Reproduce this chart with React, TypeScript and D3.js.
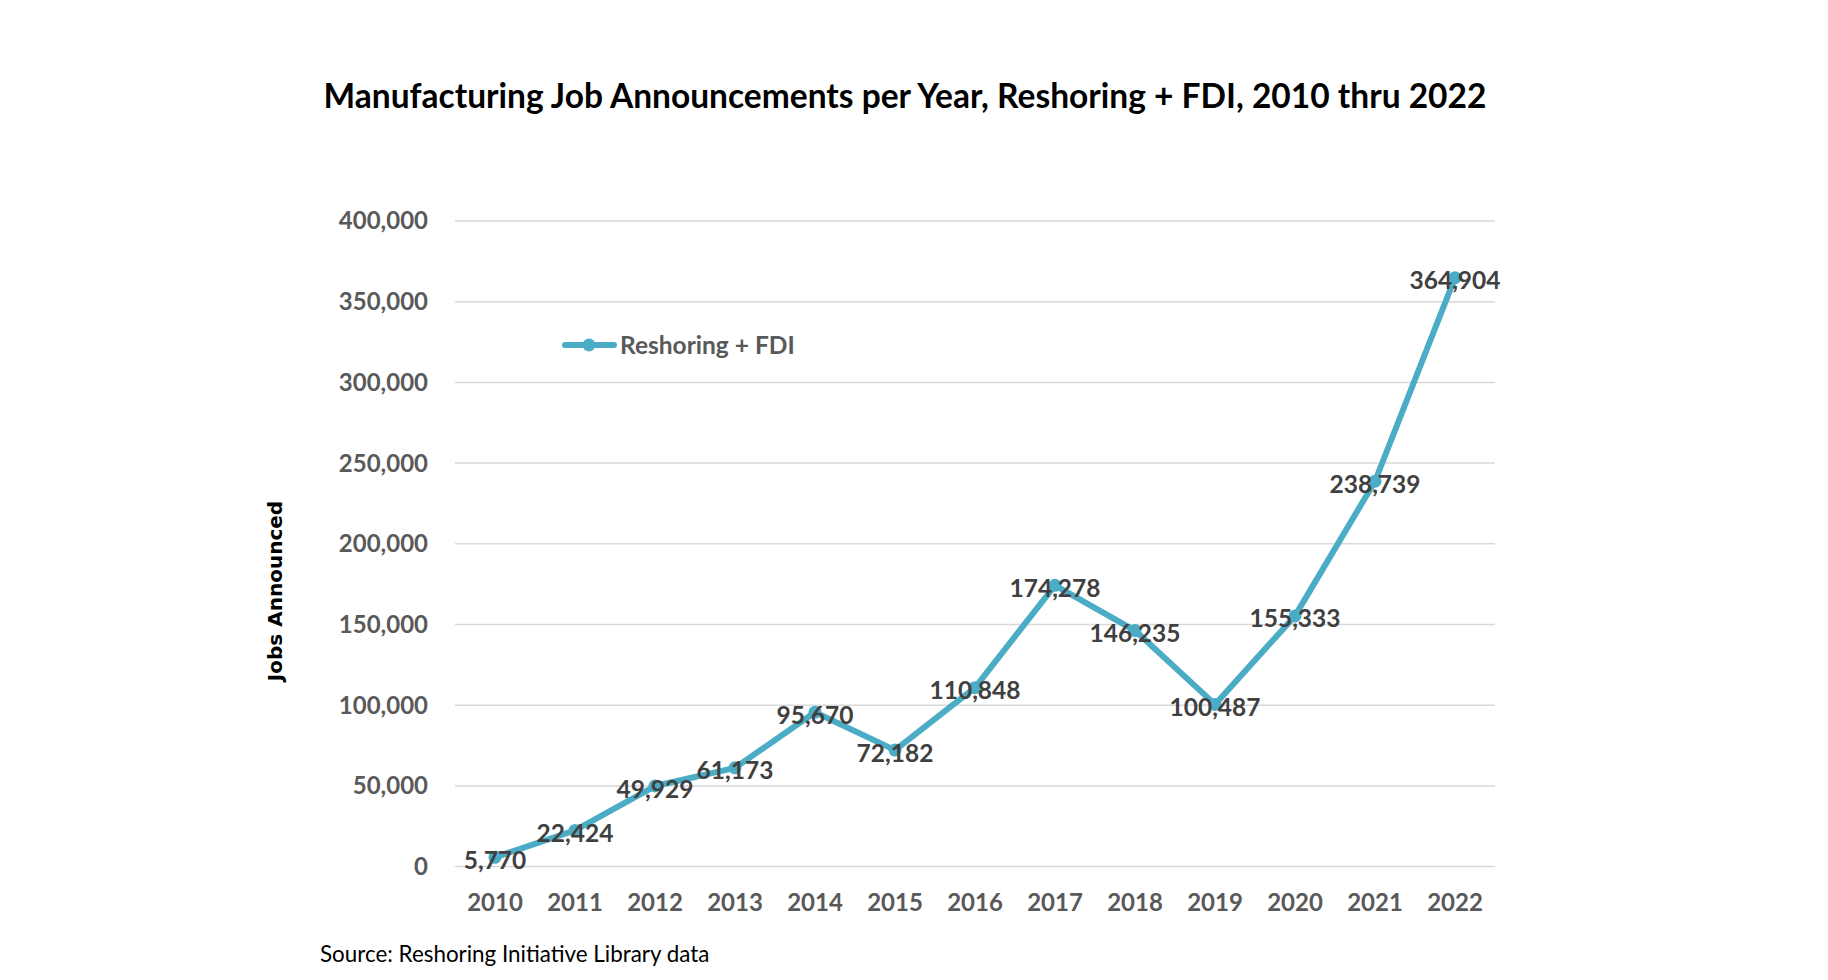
import React from 'react';
import * as d3 from 'd3';

// chart data
const years = ['2010', '2011', '2012', '2013', '2014', '2015', '2016', '2017', '2018', '2019', '2020', '2021', '2022'];
const jobs = [5770, 22424, 49929, 61173, 95670, 72182, 110848, 174278, 146235, 100487, 155333, 238739, 364904];
const yTicks = [0, 50000, 100000, 150000, 200000, 250000, 300000, 350000, 400000];

const seriesName = 'Reshoring + FDI';
const title = 'Manufacturing Job Announcements per Year, Reshoring + FDI, 2010 thru 2022';
const yTitle = 'Jobs Announced';
const source = 'Source: Reshoring Initiative Library data';

const W = 1828;
const H = 980;
const LINE = '#4BACC6';
const FONT = 'Lato, "Open Sans", sans-serif';

export default function App() {
  const x = d3.scaleBand<string>().domain(years).range([455, 1495]);
  const y = d3.scaleLinear().domain([0, 400000]).range([866.6, 221]);
  const fmt = d3.format(',');

  const cx = (i: number) => (x(years[i]) as number) + x.bandwidth() / 2;

  const line = d3.line<number>()
    .x((_, i) => cx(i))
    .y(d => y(d));

  return (
    <div style={{ position: 'absolute', left: 0, top: 0 }}>
      <svg width={W} height={H} viewBox={`0 0 ${W} ${H}`} style={{ display: 'block', background: '#fff' }}>
        {/* title */}
        <text x={905} y={108} textAnchor="middle" fontFamily={FONT} fontWeight={700} fontSize={33.5} fill="#000">
          {title}
        </text>

        {/* gridlines */}
        {yTicks.map(t => (
          <line key={t} x1={455} x2={1495} y1={y(t)} y2={y(t)} stroke="#d9d9d9" strokeWidth={1.5} />
        ))}

        {/* y tick labels */}
        {yTicks.map(t => (
          <text key={'l' + t} x={428} y={y(t)} dy="0.35em" textAnchor="end" fontFamily={FONT} fontWeight={700}
            fontSize={24} fill="#595959">
            {fmt(t)}
          </text>
        ))}

        {/* x labels */}
        {years.map((yr, i) => (
          <text key={yr} x={cx(i)} y={911} textAnchor="middle" fontFamily={FONT} fontWeight={700}
            fontSize={24} fill="#595959">
            {yr}
          </text>
        ))}

        {/* y axis title */}
        <text transform={`translate(282,591) rotate(-90)`} textAnchor="middle"
          fontFamily='"DejaVu Sans", Verdana, sans-serif' fontWeight={700} fontSize={20} fill="#000">
          {yTitle}
        </text>

        {/* series */}
        <path d={line(jobs) || ''} fill="none" stroke={LINE} strokeWidth={6} strokeLinejoin="round" strokeLinecap="round" />
        {jobs.map((v, i) => (
          <circle key={'m' + i} cx={cx(i)} cy={y(v)} r={6.5} fill={LINE} />
        ))}

        {/* data labels */}
        {jobs.map((v, i) => (
          <text key={'d' + i} x={cx(i)} y={y(v) + 3} dy="0.35em" textAnchor="middle" fontFamily={FONT}
            fontWeight={700} fontSize={24.5} fill="#404040">
            {fmt(v)}
          </text>
        ))}

        {/* legend */}
        <line x1={565} x2={614} y1={345} y2={345} stroke={LINE} strokeWidth={6} strokeLinecap="round" />
        <circle cx={589} cy={345} r={6.5} fill={LINE} />
        <text x={620} y={345} dy="0.35em" fontFamily={FONT} fontWeight={700} fontSize={24.5} fill="#595959">
          {seriesName}
        </text>

        {/* source */}
        <text x={320} y={962} fontFamily={FONT} fontSize={22.4} fill="#000">
          {source}
        </text>
      </svg>
    </div>
  );
}
